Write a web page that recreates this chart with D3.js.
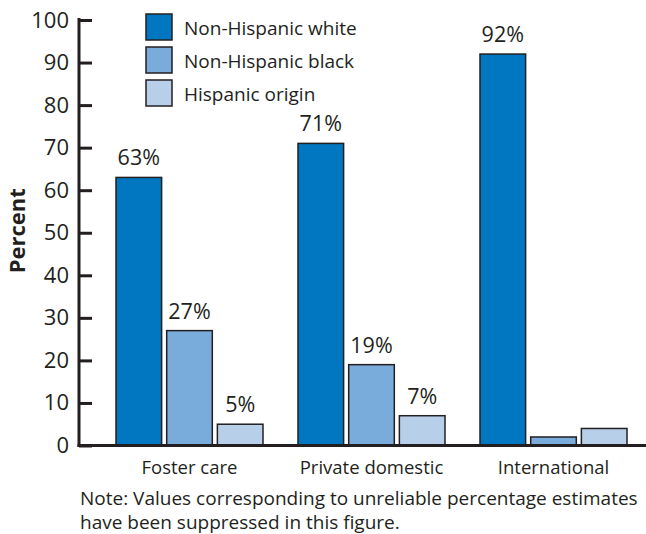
<!DOCTYPE html>
<html>
<head>
<meta charset="utf-8">
<script src="https://cdn.jsdelivr.net/npm/d3@7"></script>
<style>
  body { margin: 0; background: #fff; }
  text { font-family: "Open Sans", sans-serif; fill: #231f20; }
</style>
</head>
<body>
<svg id="chart"></svg>
<script>
/* données */
const categories = ['Foster care', 'Private domestic', 'International']
const seriesNames = ['Non-Hispanic white', 'Non-Hispanic black', 'Hispanic origin']
const whiteValues = [63, 71, 92]
const blackValues = [27, 19, 2]
const hispanicValues = [5, 7, 4]
// étiquettes affichées (null = valeur supprimée, non fiable)
const whiteLabels = ['63%', '71%', '92%']
const blackLabels = ['27%', '19%', null]
const hispanicLabels = ['5%', '7%', null]
const yTicks = [0, 10, 20, 30, 40, 50, 60, 70, 80, 90, 100]
const noteLines = ['Note: Values corresponding to unreliable percentage estimates',
                   'have been suppressed in this figure.']

const colors = ['#0077c0', '#79acdb', '#b8cfea']
const ink = '#231f20'

const width = 646, height = 534
const margin = {top: 20, right: 0, bottom: 88.5, left: 79}

const svg = d3.select('#chart').attr('width', width).attr('height', height)

const series = [whiteValues, blackValues, hispanicValues]
const labels = [whiteLabels, blackLabels, hispanicLabels]
const rows = categories.map((c, i) => ({
  category: c,
  bars: seriesNames.map((s, j) => ({series: s, idx: j, value: series[j][i], label: labels[j][i]}))
}))

/* échelles */
const yScale = d3.scaleLinear()
  .domain([0, 100])
  .range([height - margin.bottom, margin.top])

const gap = 35 / 182
const xScale = d3.scaleBand()
  .domain(categories)
  .range([98.5, 644.5])
  .paddingInner(gap)
  .paddingOuter(gap / 2)

const xInner = d3.scaleBand()
  .domain(seriesNames)
  .range([0, xScale.bandwidth()])
  .paddingInner(0.1)

/* barres */
const groups = svg.selectAll('g.group')
  .data(rows)
  .enter()
  .append('g')
  .attr('class', 'group')
  .attr('transform', d => 'translate(' + xScale(d.category) + ',0)')

groups.selectAll('rect')
  .data(d => d.bars)
  .enter()
  .append('rect')
  .attr('x', d => xInner(d.series))
  .attr('width', xInner.bandwidth())
  .attr('y', d => yScale(d.value))
  .attr('height', d => yScale(0) - yScale(d.value))
  .attr('fill', d => colors[d.idx])
  .attr('stroke', ink)
  .attr('stroke-width', 1.5)

groups.selectAll('text.val')
  .data(d => d.bars.filter(b => b.label))
  .enter()
  .append('text')
  .attr('class', 'val')
  .attr('x', d => xInner(d.series) + xInner.bandwidth() / 2)
  .attr('y', d => yScale(d.value) - 12)
  .attr('text-anchor', 'middle')
  .style('font-size', '21.5px')
  .text(d => d.label)

/* axes */
const yAxis = d3.axisLeft(yScale)
  .tickValues(yTicks)
  .tickSizeInner(-13)
  .tickSizeOuter(0)
  .tickPadding(10)

const gy = svg.append('g')
  .attr('transform', 'translate(' + margin.left + ',0)')
  .call(yAxis)
gy.selectAll('path, line').attr('stroke', ink).attr('stroke-width', 3)
gy.select('.domain').attr('d', 'M0,' + (yScale(100) - 2) + 'V' + (yScale(0) + 1.5))
gy.selectAll('text').style('font-size', '22px').attr('fill', ink).style('font-family', '"Open Sans", sans-serif')

svg.append('line')
  .attr('x1', margin.left - 1.5)
  .attr('x2', width)
  .attr('y1', yScale(0))
  .attr('y2', yScale(0))
  .attr('stroke', ink)
  .attr('stroke-width', 3)

const xAxis = d3.axisBottom(xScale).tickSize(0).tickPadding(10)
const gx = svg.append('g')
  .attr('transform', 'translate(0,' + yScale(0) + ')')
  .call(xAxis)
gx.select('.domain').remove()
gx.selectAll('text').style('font-size', '18.5px').attr('fill', ink)
  .style('font-family', '"Open Sans", sans-serif').attr('dy', '1.0em')

/* titre axe des y */
svg.append('text')
  .attr('transform', 'rotate(-90)')
  .attr('x', -(yScale(0) + yScale(100)) / 2 + 2)
  .attr('y', 25)
  .attr('text-anchor', 'middle')
  .style('font-size', '22px')
  .style('font-weight', 'bold')
  .text('Percent')

/* légende */
const legend = svg.append('g').attr('transform', 'translate(146,14)')
const items = legend.selectAll('g')
  .data(seriesNames)
  .enter()
  .append('g')
  .attr('transform', (d, i) => 'translate(0,' + i * 33 + ')')
items.append('rect')
  .attr('width', 26)
  .attr('height', 26)
  .attr('fill', (d, i) => colors[i])
  .attr('stroke', ink)
  .attr('stroke-width', 1.5)
items.append('text')
  .attr('x', 38)
  .attr('y', 21)
  .style('font-size', '19px')
  .text(d => d)

/* note */
svg.selectAll('text.note')
  .data(noteLines)
  .enter()
  .append('text')
  .attr('class', 'note')
  .attr('x', 80)
  .attr('y', (d, i) => 505 + i * 24)
  .style('font-size', '19px')
  .text(d => d)
</script>
</body>
</html>
